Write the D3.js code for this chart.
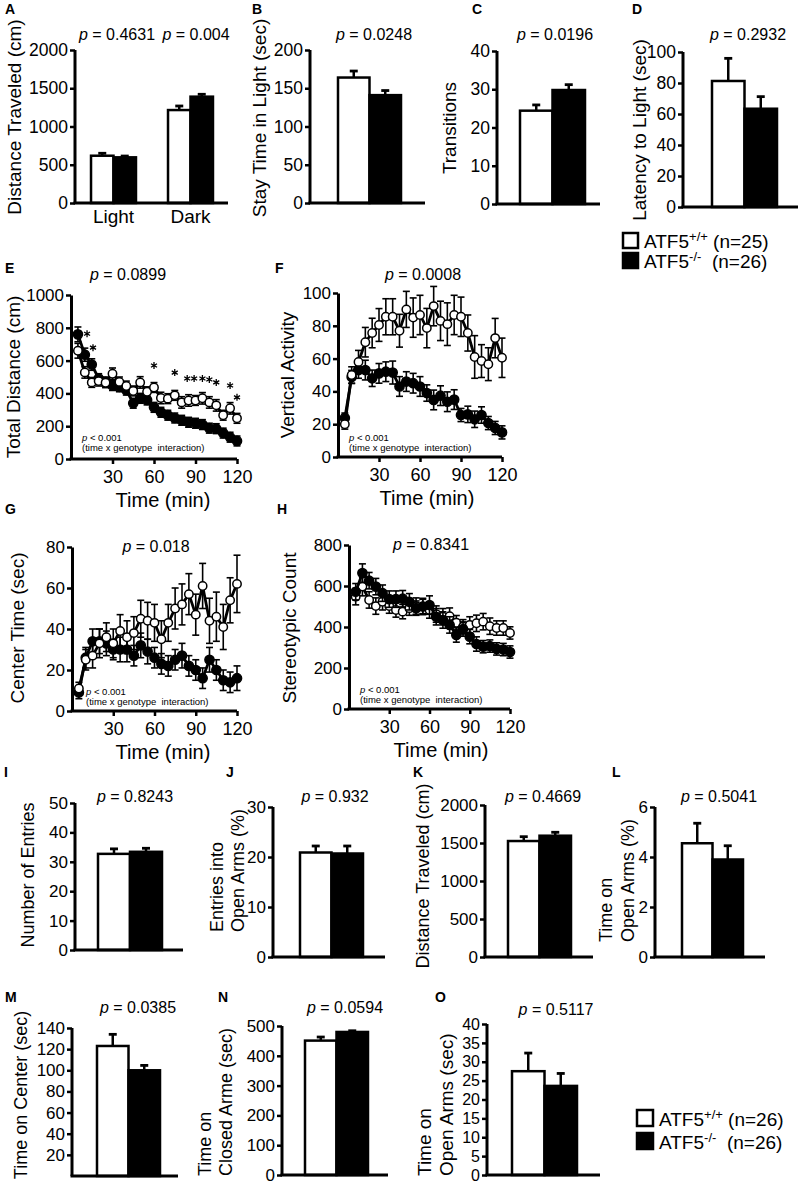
<!DOCTYPE html>
<html><head><meta charset="utf-8">
<script src="https://cdn.jsdelivr.net/npm/d3@7"></script>
<style>
body{margin:0;background:#fff}
svg{display:block}
text{font-family:"Liberation Sans", Arial, Helvetica, sans-serif; fill:#000}
</style></head><body>
<svg id="fig" width="800" height="1185"></svg>
<script>
// ================= DATA =================
const genotypes = ["ATF5+/+", "ATF5-/-"];
const timeBins = [5,10,15,20,25,30,35,40,45,50,55,60,65,70,75,80,85,90,95,100,105,110,115,120];
const timeTicks = [30, 60, 90, 120];

// A – light/dark distance
const aCategories = ["Light", "Dark"];
const aWT = [618, 1215];
const aWTErr = [32, 53];
const aKO = [597, 1390];
const aKOErr = [17, 31];
const aTicks = [0, 500, 1000, 1500, 2000];
const aP = ["0.4631", "0.004"];

// B – stay time in light
const bValues = [164, 141];
const bErr = [8.5, 6];
const bTicks = [0, 50, 100, 150, 200];
const bP = ["0.0248"];

// C – transitions
const cValues = [24.4, 29.8];
const cErr = [1.5, 1.4];
const cTicks = [0, 10, 20, 30, 40];
const cP = ["0.0196"];

// D – latency to light
const dValues = [81.3, 63.4];
const dErr = [14.6, 7.8];
const dTicks = [0, 20, 40, 60, 80, 100];
const dP = ["0.2932"];

// E – total distance over time
const eWT = [660,528,467,475,465,520,470,445,415,467,410,436,372,368,388,345,357,357,370,345,327,267,309,248];
const eWTErr = [45,35,30,30,30,35,30,30,30,35,30,30,35,30,30,35,35,30,35,35,35,30,35,30];
const eKO = [760,636,576,490,470,448,440,420,340,370,360,315,285,267,250,236,224,218,210,188,185,158,133,110];
const eKOErr = [45,40,35,30,30,30,30,30,30,30,30,30,30,30,30,30,30,30,30,30,30,30,30,30];
const eTicks = [0, 200, 400, 600, 800, 1000];
const eP = ["0.0899"];
const eStars = [[11.6,764],[15.9,679],[60,570],[75,527],[84,491],[89,491],[95,491],[100,485],[105,467],[115,448],[120,376]];

// F – vertical activity
const fWT = [20,50,58,70,75.6,80.5,85.5,85.5,77,90,85,86.6,78.6,92,83,81,86.6,85.5,75.6,61,58.5,56.6,72.5,60.5];
const fWTErr = [3,5,7,9,9,10,11,11,10,11,12,12,12,12,12,13,12,12,11,13,10,10,12,12];
const fKO = [23.8,48.8,53,53,48,51,52,51.5,43,46,45,43,39,34.8,37.4,33.7,35,25.6,26,23,25.6,20.7,17.7,15];
const fKOErr = [3,4,5,6,5,6,6,7,6,6,6,6,5,6,6,6,6,4,5,5,5,4,4,4];
const fTicks = [0, 20, 40, 60, 80, 100];
const fP = ["0.0008"];

// G – center time
const gWT = [11,25,27,33,36,33,39,36,38,45,44,43,35,43,50,52,57,47,61,44,46,41,54,62];
const gWTErr = [3,5,6,7,7,7,8,8,8,9,9,9,9,9,10,10,10,10,11,11,12,11,11,14];
const gKO = [9,26,34,34,33,30,30,30,27,32,29,26,23,22,25,27,22,20,16,25,20,15,14,16];
const gKOErr = [3,5,6,6,6,5,6,6,5,6,6,5,5,5,5,6,5,5,5,6,5,5,5,6];
const gTicks = [0, 20, 40, 60, 80];
const gP = ["0.018"];

// H – stereotypic count
const hWT = [548,597,532,502,523,502,483,475,492,502,500,483,463,450,453,421,401,410,418,426,404,395,395,371];
const hWTErr = [40,45,40,40,40,35,35,35,35,40,40,40,40,40,40,35,35,40,40,40,40,35,35,30];
const hKO = [572,663,626,597,565,536,536,538,523,492,500,507,450,434,410,361,390,353,317,304,307,293,290,278];
const hKOErr = [40,45,40,40,40,40,40,40,40,35,35,45,40,40,40,35,35,35,35,30,30,30,30,30];
const hTicks = [0, 200, 400, 600, 800];
const hP = ["0.8341"];

// I–O – elevated plus maze
const iValues = [32.7, 33.4]; const iErr = [1.7, 1.2]; const iTicks = [0,10,20,30,40,50]; const iP = ["0.8243"];
const jValues = [20.9, 20.7]; const jErr = [1.3, 1.5]; const jTicks = [0,10,20,30]; const jP = ["0.932"];
const kValues = [1526, 1596]; const kErr = [57, 45]; const kTicks = [0,500,1000,1500,2000]; const kP = ["0.4669"];
const lValues = [4.55, 3.9]; const lErr = [0.8, 0.55]; const lTicks = [0,2,4,6]; const lP = ["0.5041"];
const mValues = [123, 100]; const mErr = [11, 4.6]; const mTicks = [20,40,60,80,100,120,140]; const mP = ["0.0385"];
const nValues = [451, 480]; const nErr = [12, 4]; const nTicks = [0,100,200,300,400,500]; const nP = ["0.0594"];
const oValues = [27.5, 23.6]; const oErr = [4.8, 3.3]; const oTicks = [0,5,10,15,20,25,30,35,40]; const oP = ["0.5117"];

const legendTop = ["+/+", "(n=25)", "-/-", "(n=26)"];
const legendBottom = ["+/+", "(n=26)", "-/-", "(n=26)"];

// ================= LAYOUT =================
const LAY = {
  A:{ax:75,x1:228,yB:203,yT:50,bars:[75,229],pi:0.416,po:0.208,letter:[5,14],p:[[117,40],[196,40]],title:{x:[21],y:117,anchor:"middle",fs:19},fs:17.5},
  B:{ax:310,x1:425,yB:203,yT:50,bars:[338,401],letter:[252,14],p:[[374,40]],title:{x:[266],y:118,anchor:"middle",fs:19},fs:17.5},
  C:{ax:497,x1:600,yB:204,yT:51,bars:[520,585],letter:[472,14],p:[[555,40]],title:{x:[456],y:128,anchor:"middle",fs:19},fs:17.5},
  D:{ax:683,x1:798,yB:207,yT:52,bars:[712,777],letter:[632,14],p:[[748,40]],title:{x:[646],y:130,anchor:"middle",fs:19},fs:17.5},
  E:{x0:71,x1:237,yB:459,yT:295,letter:[5,273],p:[[128,280]],title:{x:[20],y:377,anchor:"middle",fs:19},tx:[163,507],ann:[82,441,451],fs:17},
  F:{x0:338,x1:502,yB:457,yT:293,letter:[275,273],p:[[423,280]],title:{x:[294],y:375,anchor:"middle",fs:19},tx:[427,505],ann:[349,441,451],fs:17},
  G:{x0:72,x1:237,yB:711,yT:547,letter:[5,514],p:[[156,552]],title:{x:[24],y:628,anchor:"middle",fs:19},tx:[163,759],ann:[86,695,705],fs:17},
  H:{x0:349,x1:510,yB:709,yT:545,letter:[277,514],p:[[431,550]],title:{x:[296],y:628,anchor:"middle",fs:19},tx:[441,757],ann:[360,693,703],fs:17},
  I:{ax:75,x1:183,yB:950,yT:803,bars:[98,162],letter:[4,777],p:[[135,802]],title:{x:[34],y:875,anchor:"middle",fs:18},fs:17},
  J:{ax:273,x1:385,yB:957,yT:807,bars:[300,363],letter:[226,777],p:[[335,802]],title:{x:[223,244],y:932,anchor:"start",fs:18},fs:17},
  K:{ax:485,x1:593,yB:957,yT:805,bars:[508,571],letter:[413,777],p:[[543,802]],title:{x:[429],y:876,anchor:"middle",fs:18},fs:17},
  L:{ax:655,x1:765,yB:957,yT:807,bars:[682,743],letter:[612,777],p:[[719,802]],title:{x:[612,634],y:942,anchor:"start",fs:18},fs:17},
  M:{ax:72,x1:178,yB:1176,yT:1028,bars:[97,160],letter:[5,1002],p:[[138,1013]],title:{x:[27],y:1095,anchor:"middle",fs:18},fs:17},
  N:{ax:282,x1:388,yB:1175,yT:1026,bars:[305,368],letter:[218,1002],p:[[345,1013]],title:{x:[211,232],y:1176,anchor:"start",fs:18},fs:17},
  O:{ax:487,x1:600,yB:1175,yT:1024,bars:[512,577],letter:[435,1002],p:[[556,1015]],title:{x:[431,453],y:1176,anchor:"start",fs:19},fs:16}
};

// ================= HELPERS =================
const svg = d3.select("#fig");
const fmt = d => String(d);

function styleAxis(sel, fs) {
  sel.attr("font-family", null).attr("font-size", null);
  sel.select(".domain").attr("stroke", "#000").attr("stroke-width", 3);
  sel.selectAll(".tick line").attr("stroke", "#000").attr("stroke-width", 2.5);
  sel.selectAll(".tick text").style("font-size", fs + "px").attr("fill", "#000");
}
function letter(lay, ch) {
  svg.append("text").attr("x", lay.letter[0]).attr("y", lay.letter[1])
    .style("font-size", "14px").style("font-weight", "bold").text(ch);
}
function pTexts(lay, vals, fs) {
  vals.forEach((v, i) => {
    const t = svg.append("text").attr("x", lay.p[i][0]).attr("y", lay.p[i][1])
      .attr("text-anchor", "middle").style("font-size", (fs || 16) + "px");
    t.append("tspan").style("font-style", "italic").text("p");
    t.append("tspan").text(" = " + v);
  });
}
function yTitle(lay, lines) {
  const s = lay.title;
  lines.forEach((ln, i) => {
    svg.append("text")
      .attr("transform", `translate(${s.x[i]},${s.y}) rotate(-90)`)
      .attr("text-anchor", s.anchor)
      .style("font-size", s.fs + "px")
      .text(ln);
  });
}

function barPanel(key, cats, wt, wtErr, ko, koErr, ticks, pvals, titleLines, showCats) {
  const lay = LAY[key];
  const y = d3.scaleLinear().domain([0, ticks[ticks.length - 1]]).range([lay.yB, lay.yT]);
  const outer = d3.scaleBand().domain(cats).range(lay.bars)
    .paddingInner(lay.pi || 0).paddingOuter(lay.po || 0);
  const inner = d3.scaleBand().domain(genotypes).range([0, outer.bandwidth()]);
  const rows = [];
  cats.forEach((c, ci) => {
    rows.push({c, g: genotypes[0], v: wt[ci], e: wtErr[ci]});
    rows.push({c, g: genotypes[1], v: ko[ci], e: koErr[ci]});
  });
  const g = svg.append("g");
  const cx = r => outer(r.c) + inner(r.g) + inner.bandwidth() / 2;
  g.selectAll(".eb").data(rows).join("line").attr("class", "eb")
    .attr("x1", cx).attr("x2", cx).attr("y1", r => y(r.v)).attr("y2", r => y(r.v + r.e))
    .attr("stroke", "#000").attr("stroke-width", 2.5);
  g.selectAll(".ec").data(rows).join("line").attr("class", "ec")
    .attr("x1", r => cx(r) - 4).attr("x2", r => cx(r) + 4)
    .attr("y1", r => y(r.v + r.e)).attr("y2", r => y(r.v + r.e))
    .attr("stroke", "#000").attr("stroke-width", 2.8);
  g.selectAll(".bar").data(rows).join("rect").attr("class", "bar")
    .attr("x", r => outer(r.c) + inner(r.g)).attr("width", inner.bandwidth())
    .attr("y", r => y(r.v)).attr("height", r => y(0) - y(r.v))
    .attr("fill", r => r.g === genotypes[0] ? "#fff" : "#000")
    .attr("stroke", "#000").attr("stroke-width", 2.5);
  const ya = svg.append("g").attr("transform", `translate(${lay.ax},0)`)
    .call(d3.axisLeft(y).tickValues(ticks).tickFormat(fmt).tickSize(5).tickSizeOuter(0).tickPadding(2));
  styleAxis(ya, lay.fs);
  ya.select(".domain").attr("d", `M0,${y(0)}V${y(ticks[ticks.length - 1])}`);
  svg.append("path").attr("d", d3.line()([[lay.ax - 1.5, y(0)], [lay.x1, y(0)]]))
    .attr("stroke", "#000").attr("stroke-width", 3);
  if (showCats) {
    const xa = svg.append("g").attr("transform", `translate(0,${y(0)})`)
      .call(d3.axisBottom(outer).tickSize(0).tickPadding(7));
    xa.attr("font-family", null).attr("font-size", null);
    xa.select(".domain").remove();
    xa.selectAll("text").style("font-size", "19px");
  }
  letter(lay, key);
  pTexts(lay, pvals);
  yTitle(lay, titleLines);
}

function linePanel(key, series, ticks, pvals, titleLine, stars) {
  const lay = LAY[key];
  const x = d3.scaleLinear().domain([0, 120]).range([lay.x0, lay.x1]);
  const y = d3.scaleLinear().domain([0, ticks[ticks.length - 1]]).range([lay.yB, lay.yT]);
  const g = svg.append("g");
  series.forEach(s => {
    const pts = timeBins.map((t, i) => ({t, v: s.vals[i], e: s.errs[i]}));
    const eg = g.append("g").attr("stroke", "#000").attr("stroke-width", 1.6);
    eg.selectAll(".v").data(pts).join("line").attr("class", "v")
      .attr("x1", p => x(p.t)).attr("x2", p => x(p.t))
      .attr("y1", p => y(Math.max(0, p.v - p.e))).attr("y2", p => y(p.v + p.e));
    eg.selectAll(".ct").data(pts).join("line").attr("class", "ct")
      .attr("x1", p => x(p.t) - 3.5).attr("x2", p => x(p.t) + 3.5)
      .attr("y1", p => y(p.v + p.e)).attr("y2", p => y(p.v + p.e));
    eg.selectAll(".cb").data(pts).join("line").attr("class", "cb")
      .attr("x1", p => x(p.t) - 3.5).attr("x2", p => x(p.t) + 3.5)
      .attr("y1", p => y(Math.max(0, p.v - p.e))).attr("y2", p => y(Math.max(0, p.v - p.e)));
    g.append("path").datum(pts)
      .attr("d", d3.line().x(p => x(p.t)).y(p => y(p.v)))
      .attr("fill", "none").attr("stroke", "#000").attr("stroke-width", 2.8);
    g.append("g").selectAll("circle").data(pts).join("circle")
      .attr("cx", p => x(p.t)).attr("cy", p => y(p.v))
      .attr("r", s.filled ? 4.6 : 4.2)
      .attr("fill", s.filled ? "#000" : "#fff")
      .attr("stroke", "#000").attr("stroke-width", 1.5);
  });
  if (stars) {
    const sym = d3.symbol().type(d3.symbolAsterisk).size(34);
    g.selectAll(".star").data(stars).join("path").attr("class", "star")
      .attr("transform", d => `translate(${x(d[0])},${y(d[1])})`)
      .attr("d", sym).attr("fill", "none").attr("stroke", "#000").attr("stroke-width", 1.3);
  }
  const ya = svg.append("g").attr("transform", `translate(${lay.x0},0)`)
    .call(d3.axisLeft(y).tickValues(ticks).tickFormat(fmt).tickSize(5).tickSizeOuter(0).tickPadding(2));
  styleAxis(ya, lay.fs);
  const xa = svg.append("g").attr("transform", `translate(0,${lay.yB})`)
    .call(d3.axisBottom(x).tickValues(timeTicks).tickFormat(fmt).tickSize(5).tickSizeOuter(0).tickPadding(6));
  styleAxis(xa, 18);
  xa.select(".domain").attr("d", `M${lay.x0 - 1.5},0H${lay.x1}`);
  svg.append("text").attr("x", lay.tx[0]).attr("y", lay.tx[1]).attr("text-anchor", "middle")
    .style("font-size", "20px").text("Time (min)");
  const a1 = svg.append("text").attr("x", lay.ann[0]).attr("y", lay.ann[1]).style("font-size", "9.5px");
  a1.append("tspan").style("font-style", "italic").text("p");
  a1.append("tspan").text(" < 0.001");
  svg.append("text").attr("x", lay.ann[0]).attr("y", lay.ann[2]).style("font-size", "9.5px")
    .style("white-space", "pre").text("(time x genotype  interaction)");
  letter(lay, key);
  pTexts(lay, pvals);
  yTitle(lay, [titleLine]);
}

function legend(x, y0, dy, size, labels) {
  const g = svg.append("g");
  [0, 1].forEach(i => {
    g.append("rect").attr("x", x).attr("y", y0 + i * dy).attr("width", size).attr("height", size)
      .attr("fill", i === 0 ? "#fff" : "#000").attr("stroke", "#000").attr("stroke-width", 2.5);
    const t = g.append("text").attr("x", x + size + 6).attr("y", y0 + i * dy + size)
      .style("font-size", "19px").style("white-space", "pre");
    t.append("tspan").text("ATF5");
    t.append("tspan").attr("dy", -7).style("font-size", "13px").text(labels[i * 2]);
    t.append("tspan").attr("dy", 7).text(i === 0 ? " " + labels[1] : "  " + labels[3]);
  });
}

// ================= DRAW =================
barPanel("A", aCategories, aWT, aWTErr, aKO, aKOErr, aTicks, aP, ["Distance Traveled (cm)"], true);
barPanel("B", [""], [bValues[0]], [bErr[0]], [bValues[1]], [bErr[1]], bTicks, bP, ["Stay Time in Light (sec)"], false);
barPanel("C", [""], [cValues[0]], [cErr[0]], [cValues[1]], [cErr[1]], cTicks, cP, ["Transitions"], false);
barPanel("D", [""], [dValues[0]], [dErr[0]], [dValues[1]], [dErr[1]], dTicks, dP, ["Latency to Light (sec)"], false);
legend(623, 233, 20, 15, legendTop);

linePanel("E", [{vals: eKO, errs: eKOErr, filled: true}, {vals: eWT, errs: eWTErr, filled: false}], eTicks, eP, "Total Distance (cm)", eStars);
linePanel("F", [{vals: fKO, errs: fKOErr, filled: true}, {vals: fWT, errs: fWTErr, filled: false}], fTicks, fP, "Vertical Activity");
linePanel("G", [{vals: gKO, errs: gKOErr, filled: true}, {vals: gWT, errs: gWTErr, filled: false}], gTicks, gP, "Center Time (sec)");
linePanel("H", [{vals: hWT, errs: hWTErr, filled: false}, {vals: hKO, errs: hKOErr, filled: true}], hTicks, hP, "Stereotypic Count");

barPanel("I", [""], [iValues[0]], [iErr[0]], [iValues[1]], [iErr[1]], iTicks, iP, ["Number of Entries"], false);
barPanel("J", [""], [jValues[0]], [jErr[0]], [jValues[1]], [jErr[1]], jTicks, jP, ["Entries into", "Open Arms (%)"], false);
barPanel("K", [""], [kValues[0]], [kErr[0]], [kValues[1]], [kErr[1]], kTicks, kP, ["Distance Traveled (cm)"], false);
barPanel("L", [""], [lValues[0]], [lErr[0]], [lValues[1]], [lErr[1]], lTicks, lP, ["Time on", "Open Arms (%)"], false);
barPanel("M", [""], [mValues[0]], [mErr[0]], [mValues[1]], [mErr[1]], mTicks, mP, ["Time on Center (sec)"], false);
barPanel("N", [""], [nValues[0]], [nErr[0]], [nValues[1]], [nErr[1]], nTicks, nP, ["Time on", "Closed Arme (sec)"], false);
barPanel("O", [""], [oValues[0]], [oErr[0]], [oValues[1]], [oErr[1]], oTicks, oP, ["Time on", "Open Arms (sec)"], false);
legend(637, 1110, 23, 16, legendBottom);
</script></body></html>
